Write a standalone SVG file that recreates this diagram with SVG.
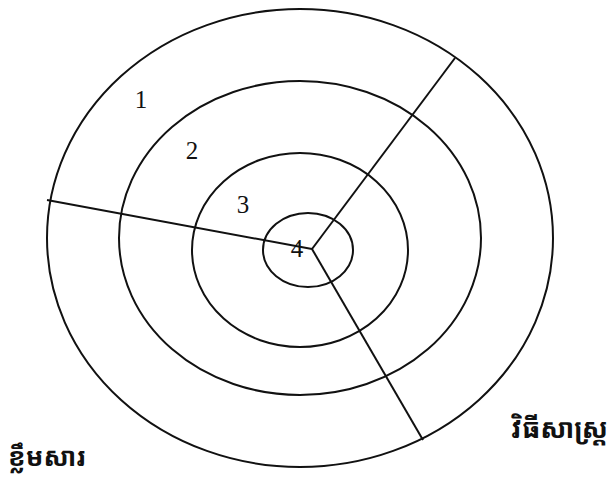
<svg xmlns="http://www.w3.org/2000/svg" width="616" height="477" viewBox="0 0 616 477">
<style>
.ring{fill:none;stroke:#111;stroke-width:2}
.spoke{stroke:#111;stroke-width:2;fill:none}
.num{font-family:"Liberation Serif","Times New Roman",serif;font-size:25px;fill:#111;text-anchor:middle}
.kh{font-family:"Noto Sans Khmer","Khmer OS","Noto Sans",sans-serif;font-weight:bold;fill:#111}
</style>
<rect width="616" height="477" fill="#fff"/>
<g id="ring1"><ellipse class="ring" cx="300" cy="238" rx="253" ry="229"/><text class="num" x="141" y="108">1</text></g>
<g id="ring2"><ellipse class="ring" cx="300" cy="238" rx="181" ry="157"/><text class="num" x="192" y="159">2</text></g>
<g id="ring3"><ellipse class="ring" cx="300" cy="250" rx="108" ry="97"/><text class="num" x="243" y="213">3</text></g>
<g id="ring4"><ellipse class="ring" cx="308" cy="250" rx="45" ry="37"/><text class="num" x="297" y="257">4</text></g>
<g id="connectors">
<line class="spoke" x1="312" y1="249" x2="455" y2="58"/>
<line class="spoke" x1="312" y1="249" x2="47" y2="200"/>
<line class="spoke" x1="312" y1="249" x2="423" y2="440"/>
</g>
<g id="label-content"><text class="kh" x="8" y="466" font-size="26">ខ្លឹមសារ</text></g>
<g id="label-method"><text class="kh" x="511" y="438" font-size="27">វិធីសាស្ត្រ</text></g>
</svg>
